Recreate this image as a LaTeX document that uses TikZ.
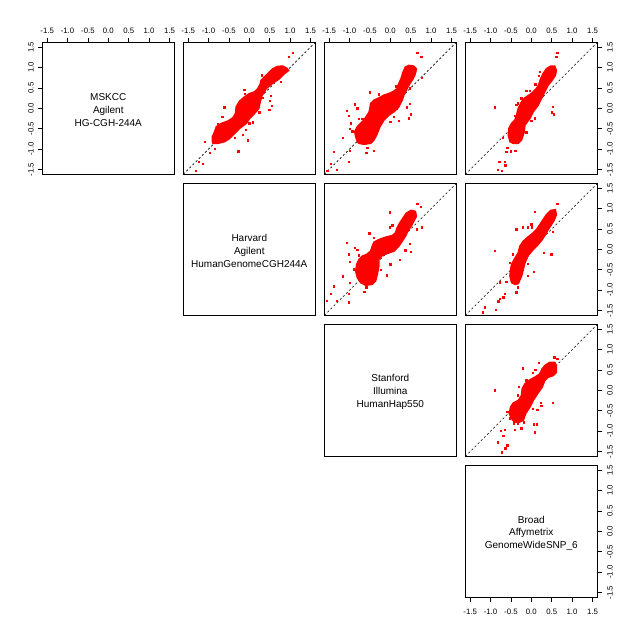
\documentclass[tikz,border=0pt]{standalone}
\usepackage{fontspec}
\setmainfont{Liberation Sans}
\begin{document}
\begin{tikzpicture}[x=1pt,y=-1pt,
  frame/.style={draw=black,line width=0.9pt},
  diagline/.style={draw=black,line width=0.6pt,dash pattern=on 2.2pt off 2.2pt},
  blob/.style={fill=red,draw=red,line width=1.6pt,line join=miter},
  ticklab/.style={font=\fontsize{7.8}{9}\selectfont,inner sep=0pt},
  ticktick/.style={draw=black,line width=0.7pt},
  diaglab/.style={font=\fontsize{10}{12.6}\selectfont,align=center,inner sep=0pt}]
\useasboundingbox (0,0) rectangle (640,640);
\fill[white] (0,0) rectangle (640,640);
\newcommand\outl[1]{\foreach \a/\b in {#1}{\fill[red] (\a-3.6,\b-3.6) rectangle ++(7.2,7.2);}}
% ---------- diagonal text panels ----------
\foreach \k/\txt in {0/{MSKCC\\Agilent\\HG-CGH-244A},1/{Harvard\\Agilent\\HumanGenomeCGH244A},2/{Stanford\\Illumina\\HumanHap550},3/{Broad\\Affymetrix\\GenomeWideSNP\_6}}{
  \draw[frame] (42.3+141*\k,42.3+141*\k) rectangle ++(132,132);
  \node[diaglab] (lab\k) at (108.3+141*\k,110+141*\k) {\txt};
}
% ---------- scatter panels ----------
% r1 c2
\begin{scope}[shift={(183.3,42.3)},scale=0.331]
\draw[diagline] (0,399) -- (399,0);
\filldraw[blob] (88,300)--(88,285)--(95,270)--(100,255)--(115,245)--(135,238)--(150,228)--(158,215)--(160,195)--(170,178)--(185,165)--(200,155)--(215,150)--(225,140)--(232,128)--(235,115)--(245,105)--(258,92)--(270,80)--(285,73)--(300,72)--(312,78)--(318,85)--(305,95)--(290,110)--(275,120)--(262,130)--(250,140)--(245,150)--(238,160)--(232,180)--(228,200)--(215,215)--(200,230)--(190,245)--(170,260)--(155,275)--(140,290)--(125,300)--(105,305)--(90,305)--cycle;
\outl{332/32,320/44,296/120,265/162,262/178,268/192,260/205,240/168,185/145,187/157,125/197,118/225,200/245,190/265,180/280,195/297,157/290,167/330,95/322,80/335,65/302,60/368,48/362,38/388,238/100,242/110,210/242,230/212,105/248}
\end{scope}
% r1 c3
\begin{scope}[shift={(324.3,42.3)},scale=0.331]
\draw[diagline] (0,399) -- (399,0);
\filldraw[blob] (100,300)--(95,285)--(92,270)--(100,255)--(110,245)--(120,235)--(128,222)--(135,212)--(138,200)--(140,185)--(150,175)--(165,168)--(180,160)--(195,155)--(210,148)--(220,140)--(225,125)--(232,110)--(238,90)--(245,75)--(255,70)--(270,72)--(278,80)--(275,95)--(268,110)--(258,125)--(250,140)--(240,160)--(235,175)--(225,195)--(210,210)--(195,220)--(180,235)--(168,255)--(158,280)--(150,295)--(140,305)--(120,308)--(105,305)--cycle;
\outl{282/32,294/44,296/108,258/140,258/187,250/197,262/218,255/230,210/225,225/238,218/202,200/240,165/158,138/152,192/158,92/188,100/200,68/207,75/222,80/245,78/262,57/290,85/270,130/320,128/335,150/328,78/328,30/332,20/368,38/385,75/362,10/388,218/133,220/148,105/232,115/232}
\end{scope}
% r1 c4
\begin{scope}[shift={(465.3,42.3)},scale=0.331]
\draw[diagline] (0,399) -- (399,0);
\filldraw[blob] (135,300)--(130,280)--(132,260)--(140,245)--(150,235)--(155,220)--(160,200)--(170,180)--(180,168)--(195,158)--(205,150)--(215,140)--(222,128)--(228,110)--(235,95)--(245,80)--(258,72)--(270,72)--(275,85)--(272,100)--(262,115)--(250,130)--(240,150)--(230,170)--(220,190)--(205,210)--(195,230)--(180,250)--(178,270)--(170,295)--(160,305)--(145,305)--cycle;
\outl{278/32,276/44,225/90,222/102,212/128,195/147,185/147,160/185,155/190,90/197,150/222,175/238,200/238,210/230,265/195,262/212,268/218,185/272,113/290,128/320,138/330,152/328,125/332,103/362,120/362,122/372,98/385,110/388,170/170}
\end{scope}
% r2 c3
\begin{scope}[shift={(324.3,183.3)},scale=0.331]
\draw[diagline] (0,399) -- (399,0);
\filldraw[blob] (110,300)--(100,285)--(95,265)--(98,245)--(105,230)--(115,220)--(128,215)--(140,205)--(145,190)--(150,178)--(165,170)--(185,163)--(205,158)--(215,150)--(220,135)--(228,120)--(238,105)--(248,90)--(262,82)--(275,85)--(278,100)--(270,115)--(262,130)--(252,145)--(245,160)--(235,175)--(225,190)--(210,205)--(190,212)--(175,218)--(165,230)--(165,250)--(160,275)--(155,295)--(145,305)--(125,308)--cycle;
\outl{282/62,292/72,198/88,198/133,206/127,296/133,280/140,258/183,245/203,262/207,228/232,200/245,190/278,172/262,137/152,150/165,68/180,92/195,100/202,75/215,78/238,90/260,57/282,78/302,122/328,128/315,30/312,20/335,8/355,38/355,75/335,75/360,105/218,108/233}
\end{scope}
% r2 c4
\begin{scope}[shift={(465.3,183.3)},scale=0.331]
\draw[diagline] (0,399) -- (399,0);
\filldraw[blob] (140,300)--(135,280)--(137,260)--(140,245)--(148,230)--(160,210)--(165,190)--(175,175)--(190,162)--(205,150)--(215,140)--(225,125)--(235,110)--(245,95)--(258,82)--(272,80)--(275,95)--(268,112)--(260,125)--(250,140)--(242,155)--(232,170)--(220,185)--(205,200)--(190,218)--(180,240)--(175,260)--(170,280)--(160,303)--(150,305)--cycle;
\outl{278/62,210/87,200/125,202/133,175/133,190/133,155/140,265/148,260/215,237/210,90/205,135/240,145/215,190/243,208/268,105/300,125/298,160/315,155/330,120/335,115/345,105/350,100/357,93/383,60/375,53/390,190/280,160/295}
\end{scope}
% r3 c4
\begin{scope}[shift={(465.3,324.3)},scale=0.331]
\draw[diagline] (0,399) -- (399,0);
\filldraw[blob] (140,285)--(133,270)--(137,250)--(145,238)--(160,230)--(170,215)--(172,195)--(180,180)--(195,168)--(210,160)--(225,150)--(232,135)--(240,125)--(255,115)--(270,115)--(275,125)--(275,145)--(265,155)--(250,160)--(240,170)--(232,190)--(218,210)--(205,230)--(195,250)--(182,270)--(175,290)--(160,297)--(148,295)--cycle;
\outl{270/100,278/105,222/117,212/138,205/148,175/134,162/190,160/215,90/200,265/237,228/237,230/247,205/255,218/258,128/265,135/285,148/300,160/300,178/297,150/320,170/315,207/303,217/303,210/327,107/322,120/320,115/338,98/357,128/366,122/375,110/387,215/160,185/170}
\end{scope}
% frames of scatter panels
\foreach \r/\c in {0/1,0/2,0/3,1/2,1/3,2/3}{
  \draw[frame] (42.3+141*\c,42.3+141*\r) rectangle ++(132,132);
}
% ---------- axes ----------
\foreach \v/\t [count=\i] in {-1.5/-1.5,-1/-1.0,-0.5/-0.5,0/0.0,0.5/0.5,1/1.0,1.5/1.5}{
  % top axes, all columns
  \foreach \j in {0,1,2,3}{
    \draw[ticktick] (108.3+141*\j+40.77*\v,42.3) -- ++(0,-4.5);
    \node[ticklab] (top\j-\i) at (108.3+141*\j+40.77*\v,31) {\t};
  }
  % right axes, all rows
  \foreach \j in {0,1,2,3}{
    \draw[ticktick] (597.3,108.3+141*\j-40.77*\v) -- ++(4.5,0);
    \node[ticklab,rotate=90] (rgt\j-\i) at (610,108.3+141*\j-40.77*\v) {\t};
  }
  % left axis, row 1
  \draw[ticktick] (42.3,108.3-40.77*\v) -- ++(-4.5,0);
  \node[ticklab,rotate=90] (lft-\i) at (31,108.3-40.77*\v) {\t};
  % bottom axis, column 4
  \draw[ticktick] (531.3+40.77*\v,597.3) -- ++(0,4.5);
  \node[ticklab] (bot-\i) at (531.3+40.77*\v,612) {\t};
}
\end{tikzpicture}
\end{document}
